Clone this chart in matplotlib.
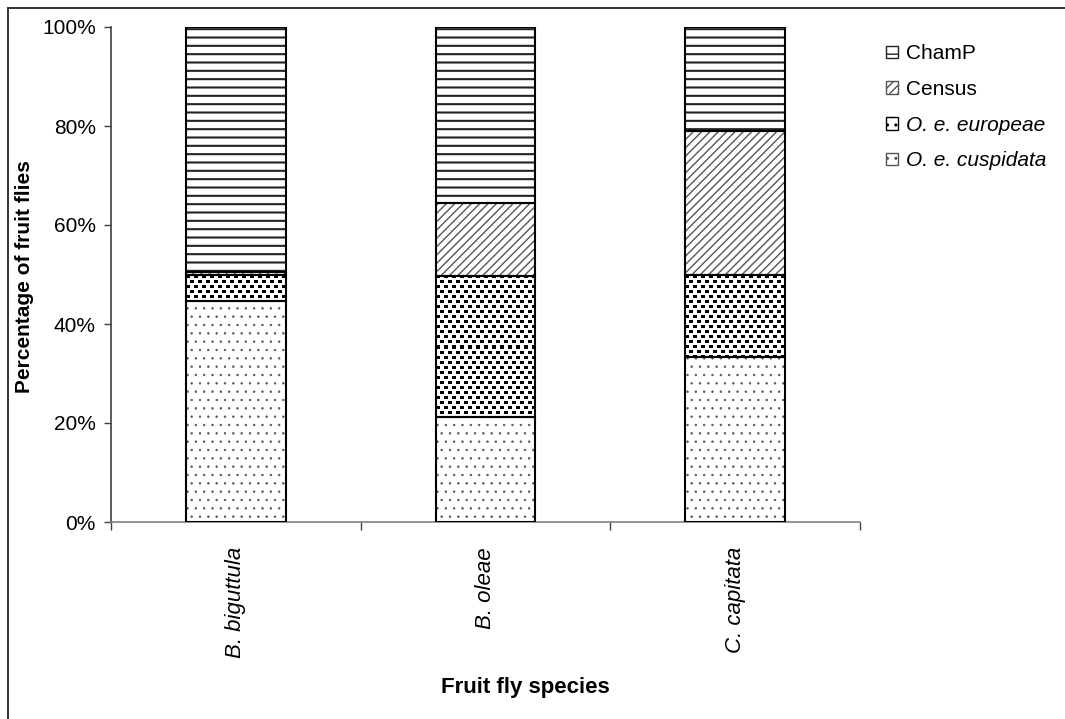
import numpy as np
import matplotlib
matplotlib.use("Agg")
import matplotlib.pyplot as plt
from matplotlib.lines import Line2D
from matplotlib.patches import Patch

plt.rcParams['font.family'] = ['Liberation Sans', 'DejaVu Sans']

species = ['B. biguttula', 'B. oleae', 'C. capitata']
# stacked percentages, bottom to top
cuspidata = [44.6, 21.2, 33.3]
europeae = [5.2, 28.5, 16.5]
census = [0.8, 14.7, 29.1]
champ = [49.4, 35.6, 21.1]
yticks = [0, 20, 40, 60, 80, 100]

# name, values, hatch, hatch colour, hatch width, italic label, textured
layers = [
    ('O. e. cuspidata', cuspidata, '..', '#555555', 0.5, True, False),
    ('O. e. europeae', europeae, '..', 'black', 3.2, True, True),
    ('Census', census, '////', '#555555', 1.0, False, False),
    ('ChamP', champ, '--', '#222222', 1.5, False, False),
]


def square_dots(h, w):
    # staggered small black squares on white
    yy, xx = np.mgrid[0:h, 0:w]
    shift = (yy // 5 % 2) * 4
    on = ((xx + shift) % 8 < 4) & (yy % 5 < 3)
    return np.where(on, 0.0, 1.0)


fig = plt.figure(figsize=(10.65, 7.19), dpi=100)
W, H = 1065, 719
ax = fig.add_axes([111 / W, 1 - 522 / H, 749 / W, 495 / H])
ax.set_xlim(-0.5, 2.5)
ax.set_ylim(0, 100)

x = np.arange(len(species))
width = 0.4
bottom = np.zeros(len(species))
handles = []
for name, vals, hatch, hcol, hlw, italic, textured in layers:
    vals = np.array(vals)
    if textured:
        bars = ax.bar(x, vals, width, bottom=bottom, color='white', linewidth=0, zorder=2)
        for xi, b0, v, b in zip(x, bottom, vals, bars):
            (px0, py0), (px1, py1) = ax.transData.transform(
                [(xi - width / 2, b0), (xi + width / 2, b0 + v)])
            img = square_dots(max(int(round(py1 - py0)), 1), max(int(round(px1 - px0)), 1))
            ax.imshow(img, extent=(xi - width / 2, xi + width / 2, b0, b0 + v),
                      cmap='gray', vmin=0, vmax=1, interpolation='nearest',
                      aspect='auto', clip_path=b, zorder=2.2)
    else:
        bars = ax.bar(x, vals, width, bottom=bottom, color='white', edgecolor=hcol,
                      linewidth=0, hatch=hatch, zorder=2)
        for b in bars:
            if hasattr(b, 'set_hatch_linewidth'):
                b.set_hatch_linewidth(hlw)
    ax.bar(x, vals, width, bottom=bottom, fill=False, edgecolor='black',
           linewidth=1.5, zorder=3)
    hp = Patch(facecolor='white', edgecolor=hcol, hatch=hatch, linewidth=1.0)
    if hasattr(hp, 'set_hatch_linewidth'):
        hp.set_hatch_linewidth(hlw)
    handles.append((hp, name, italic))
    bottom += vals

ax.set_xlim(-0.5, 2.5)
ax.set_ylim(0, 100)
ax.set_yticks(yticks)
ax.set_yticklabels(['%d%%' % v for v in yticks], fontsize=15)
ax.tick_params(axis='y', direction='out', length=5, width=1, color='#404040', pad=6)

# category boundaries get the tick marks, labels sit in between
ax.set_xticks([-0.5, 0.5, 1.5, 2.5])
ax.set_xticklabels([])
ax.tick_params(axis='x', which='major', direction='out', length=6, width=1, color='#404040')
ax.set_xticks(x, minor=True)
ax.set_xticklabels(species, minor=True, rotation=90, fontsize=16, style='italic',
                   va='top', ha='center')
ax.tick_params(axis='x', which='minor', length=0, pad=18)

for s in ['top', 'right']:
    ax.spines[s].set_visible(False)
ax.spines['left'].set_color('#404040')
ax.spines['bottom'].set_color('#808080')
ax.spines['left'].set_linewidth(1.2)
ax.spines['bottom'].set_linewidth(1.2)

fig.text(25 / W, 1 - 277 / H, 'Percentage of fruit flies', rotation=90,
         fontsize=15, fontweight='bold', ha='center', va='center')
fig.text(525 / W, 1 - 688 / H, 'Fruit fly species', fontsize=16,
         fontweight='bold', ha='center', va='center')

hs = [h for h, _, _ in handles][::-1]
labels = [n for _, n, _ in handles][::-1]
leg = fig.legend(hs, labels, loc='upper left', bbox_to_anchor=(878 / W, 1 - 36 / H),
                 frameon=False, fontsize=15, handlelength=0.55, handleheight=0.55,
                 handletextpad=0.4, labelspacing=0.8, borderaxespad=0)
for txt, (_, _, italic) in zip(leg.get_texts(), handles[::-1]):
    if italic:
        txt.set_style('italic')

# outer chart frame, only top and left edges fall inside the image
fig.add_artist(Line2D([7.5 / W, 7.5 / W], [0, 1 - 7.5 / H], color='#333333', lw=1.4))
fig.add_artist(Line2D([7.5 / W, 1], [1 - 7.5 / H, 1 - 7.5 / H], color='#333333', lw=1.4))

fig.savefig('out.png', dpi=100)
